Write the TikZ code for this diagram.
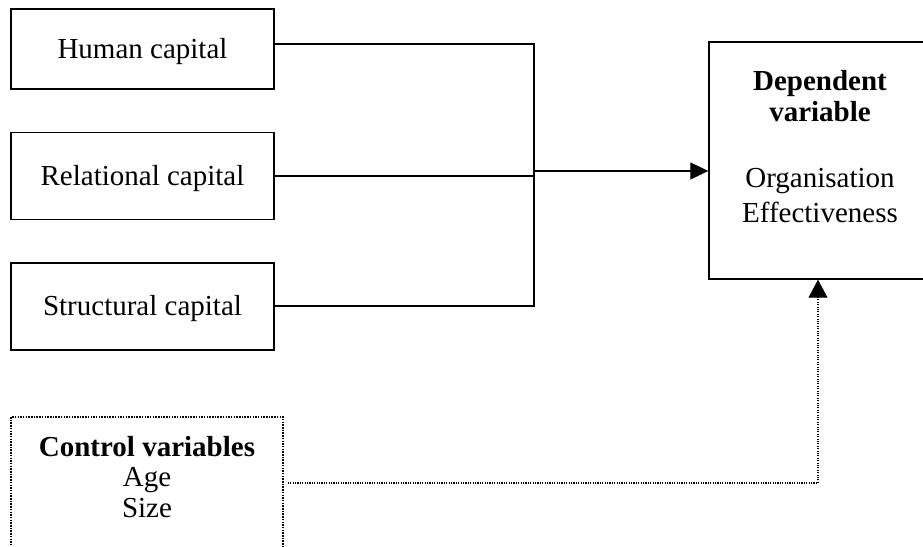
\documentclass[tikz,border=0pt]{standalone}
\usepackage{fontspec}
\setmainfont{Liberation Serif}
\usetikzlibrary{arrows.meta}
\begin{document}
\begin{tikzpicture}[x=1pt,y=-1pt,
  capbox/.style={draw, line width=1.4pt, rectangle, minimum width=263pt, minimum height=80pt,
    inner sep=0pt, text height=21pt, text depth=3pt, font=\fontsize{29}{33}\selectfont},
  bigbox/.style={draw, line width=1.4pt, rectangle, inner sep=0pt},
  ctrlbox/.style={draw, line width=1.6pt, dash pattern=on 1.5pt off 1.2pt, rectangle, inner sep=0pt},
  txt/.style={font=\fontsize{29}{33}\selectfont, inner sep=0pt, anchor=base},
  btxt/.style={font=\fontsize{29}{33}\selectfont\bfseries, inner sep=0pt, anchor=base},
  link/.style={line width=1.3pt},
  arr/.style={-{Triangle[length=18pt,width=17pt]}},
  dotline/.style={line width=1.1pt, dash pattern=on 1.1pt off 1.3pt}]
\useasboundingbox (0,0) rectangle (923,546);
\clip (0,0) rectangle (923,546);

% boxes
\node[capbox] (hc) at (142.5,49) {Human capital};
\node[capbox, minimum height=87pt] (rc) at (142.5,176) {Relational capital};
\node[capbox, minimum height=87pt] (sc) at (142.5,306.5) {Structural capital};
\node[bigbox, minimum width=222pt, minimum height=237pt] (dep) at (820,160.5) {};
\node[ctrlbox, minimum width=272pt, minimum height=158pt] (ctrl) at (147,496) {};

% dependent text
\node[btxt] (d1) at (820,90) {Dependent};
\node[btxt] (d2) at (820,121) {variable};
\node[txt] (d3) at (820,187) {Organisation};
\node[txt] (d4) at (820,222) {Effectiveness};

% control text
\node[btxt] (c1) at (147,456) {Control variables};
\node[txt] (c2) at (147,486) {Age};
\node[txt] (c3) at (147,517) {Size};

% connectors
\coordinate (jt) at (534,44);
\coordinate (jb) at (534,306);
\coordinate (ja) at (534,171);
\draw[link] (hc.east |- jt) -- (jt) -- (jb) -- (sc.east |- jb);
\draw[link] (rc.east) -- (rc.east -| jt);
\draw[link, arr] (ja) -- (dep.west |- ja);

\coordinate (cc) at (818,483);
\draw[dotline, shorten <=4pt, -{Triangle[length=18pt,width=19pt]}] (ctrl.east |- cc) -- (cc) -- (cc |- dep.south);
\end{tikzpicture}
\end{document}
